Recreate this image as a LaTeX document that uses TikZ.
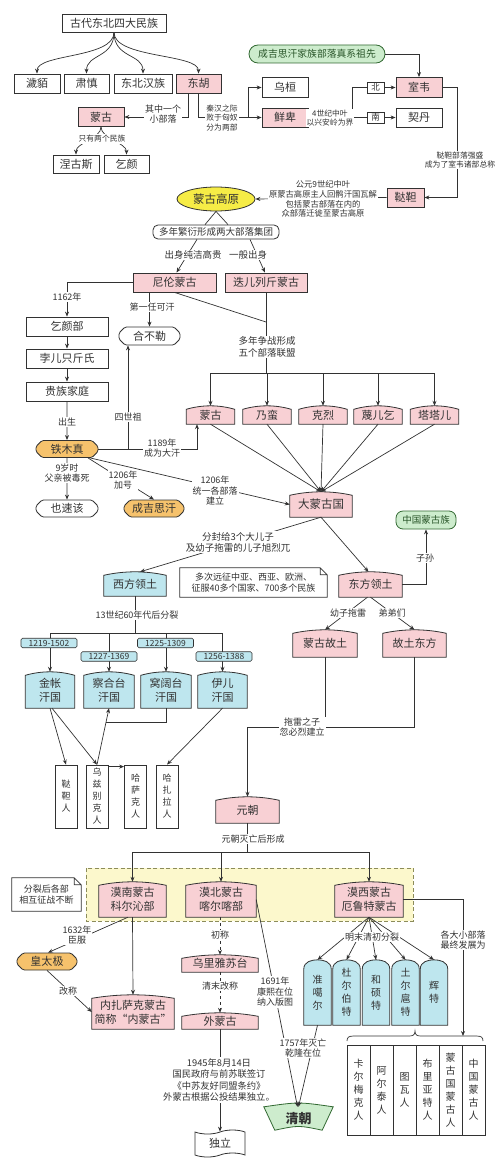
\documentclass[tikz,border=0pt]{standalone}
\usepackage{fontspec}
\setmainfont{Noto Sans CJK SC}
\usetikzlibrary{arrows.meta, shapes.geometric, shapes.misc, shapes.symbols, backgrounds}

\definecolor{ink}{RGB}{50,50,50}
\definecolor{pinkc}{RGB}{248,208,212}
\definecolor{cyanc}{RGB}{190,230,238}
\definecolor{orangec}{RGB}{246,194,108}
\definecolor{yellowc}{RGB}{246,236,70}
\definecolor{greenc}{RGB}{205,236,205}
\definecolor{greend}{RGB}{50,105,50}
\definecolor{zonec}{RGB}{252,248,204}
\definecolor{zoned}{RGB}{140,140,90}

\begin{document}
\begin{tikzpicture}[x=1pt, y=-1pt, >={Stealth[length=5pt,width=4pt]},
  line/.style={draw=ink, line width=0.7pt},
  arr/.style={line, ->},
  big/.style={font=\fontsize{11}{14}\selectfont, text=ink},
  box/.style={big, rectangle, draw=ink, line width=0.8pt, fill=white, inner sep=0pt, minimum height=19pt, minimum width=#1},
  pbox/.style={box=#1, fill=pinkc},
  capn/.style={big, align=center, inner sep=0pt, minimum width=#1},
  hexa/.style={big, chamfered rectangle, chamfered rectangle xsep=3pt, chamfered rectangle ysep=3pt, rounded corners=1.5pt, draw=ink, line width=0.8pt, fill=#1, inner sep=0pt, minimum width=60pt, minimum height=17pt},
  vbox/.style={draw=ink, line width=0.8pt, fill=white, align=center, inner sep=0pt, minimum width=22pt, minimum height=63pt, text=ink, font=\fontsize{9}{12}\selectfont},
  tomb/.style={align=center, inner sep=0pt, minimum width=27pt, minimum height=65pt, text=ink, font=\fontsize{10}{13}\selectfont},
  tag/.style={draw=ink, line width=0.6pt, fill=cyanc, rounded corners=1.5pt, inner sep=0pt, minimum width=56pt, minimum height=9.5pt, text=ink, font=\fontsize{8.5}{9}\selectfont},
  note/.style={align=center, inner sep=0pt, text=ink, font=\fontsize{9}{11.5}\selectfont},
  lbl/.style={align=center, fill=white, inner sep=1pt, text=ink, font=\fontsize{9}{10.5}\selectfont},
  slbl/.style={lbl, font=\fontsize{7.8}{9.5}\selectfont},
]
\useasboundingbox (0,0) rectangle (500,1172);

% four peoples of the north-east
\node[box=104, minimum height=18pt] (ancient) at (114,23) {古代东北四大民族};
\node[box=46] (hm) at (37,83.5) {濊貊};
\node[box=45] (sx) at (86.5,83.5) {肃慎};
\node[box=58] (hz) at (143,83.5) {东北汉族};
\node[pbox=45] (dh) at (198.5,83.5) {东胡};
\node[pbox=46] (mg1) at (101,117) {蒙古};
\node[box=46, minimum height=18pt] (ngs) at (76,164) {涅古斯};
\node[box=45, minimum height=18pt] (qy) at (126.5,164) {乞颜};

% Xianbei and Shiwei
\node[draw=greend, line width=0.8pt, fill=greenc, rounded corners=9pt, minimum width=136pt, minimum height=18pt, inner sep=0pt, text=greend!80!black, font=\fontsize{9.8}{11}\selectfont] (anc) at (317,54) {成吉思汗家族部落真系祖先};
\node[box=46, minimum height=20pt] (wh) at (285,87.5) {乌桓};
\node[pbox=46] (xb) at (285,117.5) {鲜卑};
\node[box=17, minimum height=11pt, font=\fontsize{8.5}{9}\selectfont] (bei) at (375.5,87.5) {北};
\node[box=17, minimum height=11pt, font=\fontsize{8.5}{9}\selectfont] (nan) at (375.5,117.5) {南};
\node[pbox=46, minimum height=20pt] (sw) at (419,87.5) {室韦};
\node[box=46] (qd) at (419,117.5) {契丹};
\node[pbox=37] (dd) at (405.5,197.5) {鞑靼};

% Mongolian plateau
\node[ellipse, draw=ink, line width=0.8pt, fill=yellowc, minimum width=78pt, minimum height=24pt, inner sep=0pt, text=ink, font=\fontsize{11.5}{13}\selectfont] (gov) at (216,199) {蒙古高原};
\node[draw=ink, line width=0.8pt, fill=white, rounded corners=5pt, minimum width=126pt, minimum height=14pt, inner sep=0pt, text=ink, font=\fontsize{9.5}{11}\selectfont] (grp) at (216,232) {多年繁衍形成两大部落集团};
\node[pbox=83] (nl) at (174.5,282.5) {尼伦蒙古};
\node[pbox=82] (de) at (266,282.5) {迭儿列斤蒙古};
\node[box=82] (qyb) at (67,326.5) {乞颜部};
\node[box=82] (bej) at (67,358.5) {孛儿只斤氏};
\node[box=82] (gz) at (67,391.5) {贵族家庭};
\node[hexa=white, minimum width=61pt, minimum height=18pt] (hbl) at (149.5,336) {合不勒};
\node[hexa=orangec, minimum width=62pt] (tmz) at (67,449) {铁木真};
\node[hexa=white, minimum width=62pt] (ysg) at (67,508.5) {也速该};
\node[hexa=orangec] (cjs) at (154,508.5) {成吉思汗};

% five tribal unions
\node[capn=48, minimum height=18pt] (mgt) at (210.5,415) {蒙古};
\node[capn=48, minimum height=18pt] (nm) at (267,415) {乃蛮};
\node[capn=48, minimum height=18pt] (kl) at (323,415) {克烈};
\node[capn=48, minimum height=18pt] (mek) at (378,415) {蔑儿乞};
\node[capn=48, minimum height=18pt] (tt) at (434.5,415) {塔塔儿};
\node[capn=62, minimum height=25pt, font=\fontsize{11.5}{14}\selectfont] (dmg) at (321,504.5) {大蒙古国};
\node[draw=greend, line width=0.8pt, fill=greenc, rounded corners=7pt, minimum width=60pt, minimum height=18pt, inner sep=0pt, text=greend!80!black, font=\fontsize{9.5}{11}\selectfont] (zgm) at (426,520) {中国蒙古族};

% west and east
\node[capn=62, minimum height=24pt] (xf) at (135,584) {西方领土};
\node[note, minimum width=147pt, minimum height=29pt] (note1) at (253.5,582.5) {多次远征中亚、西亚、欧洲、\\征服40多个国家、700多个民族};
\node[capn=63, minimum height=25pt] (df) at (370.5,584.5) {东方领土};
\node[capn=64, minimum height=27pt] (mggt) at (325,643.5) {蒙古故土};
\node[capn=63, minimum height=27pt] (gtdf) at (414.5,643.5) {故土东方};
\node[capn=49, minimum height=36pt] (jz) at (50,690) {金帐\\汗国};
\node[capn=50, minimum height=36pt] (chg) at (109,690) {察合台\\汗国};
\node[capn=50, minimum height=36pt] (wkt) at (166,690) {窝阔台\\汗国};
\node[capn=49, minimum height=36pt] (yr) at (222.5,690) {伊儿\\汗国};
\node[vbox] (p1) at (66,796.5) {鞑\\靼\\人};
\node[vbox] (p2) at (97,796.5) {乌\\兹\\别\\克\\人};
\node[vbox] (p3) at (135.5,796.5) {哈\\萨\\克\\人};
\node[vbox] (p4) at (167,796.5) {哈\\扎\\拉\\人};

% Yuan and after
\node[capn=63, minimum height=26pt] (ym) at (247.5,810) {元朝};
\node[note, minimum width=69pt, minimum height=33pt] (note2) at (46.5,894.5) {分裂后各部\\相互征战不断};
\node[capn=67, minimum height=35pt] (mn) at (132.5,899.5) {漠南蒙古\\科尔沁部};
\node[capn=70, minimum height=35pt] (mb) at (221,899.5) {漠北蒙古\\喀尔喀部};
\node[capn=68, minimum height=35pt] (mx) at (369,899.5) {漠西蒙古\\厄鲁特蒙古};
\node[hexa=orangec] (htj) at (47,961.5) {皇太极};
\node[capn=82, minimum height=34pt] (nzsk) at (133,1012) {内扎萨克蒙古\\简称“内蒙古”};
\node[capn=76, minimum height=17pt] (wly) at (220,963.5) {乌里雅苏台};
\node[capn=76, minimum height=16pt] (wmg) at (220,1021) {外蒙古};
\node[tape, tape bend top=in and out, tape bend bottom=in and out, tape bend height=4pt, draw=ink, line width=0.8pt, fill=white, minimum width=50pt, minimum height=27pt, inner sep=0pt, big] (dl) at (220,1143.5) {独立};
\node[inner sep=0pt, minimum width=63pt, minimum height=23pt, text=ink, font=\fontsize{13}{15}\selectfont\bfseries] (qc) at (298.5,1118.5) {清朝};
\node[tomb] (zge) at (317.5,992.5) {准\\噶\\尔};
\node[tomb] (debt) at (346.5,992.5) {杜\\尔\\伯\\特};
\node[tomb] (hst) at (376,992.5) {和\\硕\\特};
\node[tomb] (tehu) at (405.5,992.5) {土\\尔\\扈\\特};
\node[tomb] (ht) at (434,992.5) {辉\\特};
\foreach \x/\t [count=\i] in {358.5/卡\\尔\\梅\\克\\人, 381.5/阿\\尔\\泰\\人, 404.5/图\\瓦\\人, 427.5/布\\里\\亚\\特\\人, 450.5/蒙\\古\\国\\蒙\\古\\人, 473.5/中\\国\\蒙\\古\\人}
  \node[vbox, minimum width=23pt, minimum height=90pt, font=\fontsize{10}{13}\selectfont] (b\i) at (\x,1090) {\t};

% connectors: top part
\foreach \t in {hm,sx,hz,dh}
  \draw[arr] (ancient.south) .. controls +(0,26) and +(0,-20) .. (\t.north);
\draw[arr] ([xshift=-10pt]dh.south) |- (mg1.east);
\draw[arr] (dh.south) |- (xb.west);
\coordinate (wxj) at (248,117.5);
\draw[arr] (wxj) |- (wh.west);
\draw[arr] (mg1.south) .. controls +(0,12) and +(0,-12) .. (ngs.north);
\draw[arr] (mg1.south) .. controls +(0,12) and +(0,-12) .. (qy.north);
\draw[arr] (anc.east) -| (sw.north);
\coordinate (bnj) at (352,117.5);
\draw[line] (xb.east) -- (bnj) -- (nan.west);
\draw[line] (bnj) |- (bei.west);
\draw[arr] (bei.east) -- (sw.west);
\draw[arr] (nan.east) -- (qd.west);
\coordinate (swr) at (457,87.5);
\draw[arr] (sw.east) -- (swr) |- (dd.east);
\draw[arr] (dd.west) -- (gov.east);
\draw[line] (gov.south) -- ([xshift=-11pt]grp.north);
\draw[line] (gov.south) -- ([xshift=12pt]grp.north);
\draw[arr] ([xshift=-19pt]grp.south) -- ([xshift=2pt]nl.north);
\draw[arr] ([xshift=34pt]grp.south) -- ([xshift=-1pt]de.north);

% connectors: Temujin
\draw[arr] (nl.west) -| (qyb.north);
\draw[arr] (qyb) -- (bej);
\draw[arr] (bej) -- (gz);
\draw[arr] (gz) -- (tmz);
\draw[arr] (tmz) -- (ysg);
\draw[arr] (hbl.north |- nl.south) -- (hbl.north);
\coordinate (j5) at (266,322);
\coordinate (bar5) at (0,373);
\draw[line] (nl.south) -- (j5);
\draw[line] (de.south) -- (de.south |- bar5);
\draw[line] (mgt.north |- bar5) -- (tt.north |- bar5);
\foreach \t in {mgt,nm,kl,mek,tt}
  \draw[arr] (\t.north |- bar5) -- (\t.north);
\draw[arr] (tmz.east) -| ([xshift=-13.5pt]mgt.south);
\coordinate (c128) at (128,0);
\draw[arr] (tmz.east -| c128) -- (hbl.south -| c128);
\draw[arr] ([xshift=21pt]tmz.south) -- (cjs.north);
\draw[arr] ([xshift=23pt]tmz.south) -- (dmg.west);
\foreach \t in {mgt,nm,kl,mek,tt}
  \draw[arr] (\t.south) -- (dmg.north);

% connectors: west and east
\draw[arr] (dmg.south) -- ([xshift=5pt]xf.north);
\draw[arr] (dmg.south) -- ([xshift=-2pt]df.north);
\draw[arr] (df.east) -| (zgm.south);
\draw[arr] ([xshift=-3pt]df.south) -- (mggt.north);
\draw[arr] (df.south) -- (gtdf.north);
\coordinate (ymj) at (247.5,727);
\draw[line] (mggt.south) -- (mggt.south |- ymj);
\draw[arr] (gtdf.south) |- (ymj) -- (ym.north);
\coordinate (bar4) at (0,633);
\draw[line] (xf.south) -- (xf.south |- bar4);
\draw[line] (jz.north |- bar4) -- (yr.north |- bar4);
\foreach \t in {jz,chg,wkt,yr}
  \draw[arr] (\t.north |- bar4) -- (\t.north);
\draw[arr] (jz.south) -- (p1.north);
\draw[arr] ([xshift=2pt]jz.south) -- (p2.north);
\draw[arr] (p2.north) -- (chg.south);
\coordinate (wkj) at (106,722);
\draw[line] (wkt.south) |- (wkj);
\draw[arr] ([yshift=-2pt]p2.north east) -- ([yshift=-2pt]p3.north west);
\draw[arr] (yr.south) -- (p4.north);

% connectors: Yuan and after
\coordinate (bar3) at (0,852);
\draw[line] (ym.south) -- (ym.south |- bar3);
\draw[line] (mn.north |- bar3) -- (mx.north |- bar3);
\foreach \t in {mn,mb,mx}
  \draw[arr] (\t.north |- bar3) -- (\t.north);
\draw[arr] ([xshift=-4.5pt]mn.south) -- ([xshift=1pt]htj.north);
\draw[arr] (htj.south) -- (nzsk.west);
\draw[arr] (mn.south) -- (nzsk.north);
\draw[arr, dashed] (wly.north |- mb.south) -- (wly.north);
\draw[arr, dashed] (wly.south) -- (wmg.north);
\draw[arr] (wmg.south) -- (dl.north);
\draw[arr] (mb.east) -- ([xshift=-1pt]qc.north);
\draw[arr] (zge.south) -- (qc.north);
\foreach \t in {zge,debt,hst,tehu,ht}
  \draw[arr] (mx.south) -- (\t.north);
\coordinate (brr) at (463,1036);
\draw[arr] (mx.east) -| (brr);
% brace over the peoples
\draw[line] (347,1041) .. controls (347,1037) and (349,1036) .. (354,1036) -- (409,1036)
  .. controls (413,1036) and (415,1035) .. (415,1031) .. controls (415,1035) and (417,1036) .. (421,1036)
  -- (476,1036) .. controls (481,1036) and (483,1037) .. (483,1041);

% labels
\node[lbl] (l1) at (163,114) {其中一个\\小部落};
\node[slbl] (l2) at (222,118) {秦汉之际\\败于匈奴\\分为两部};
\node[slbl] (l3) at (102,139) {只有两个民族};
\node[slbl] (l4) at (330,118) {4世纪中叶\\以兴安岭为界};
\node[slbl] (l5) at (460,160) {鞑靼部落强盛\\成为了室韦诸部总称};
\node[slbl, font=\fontsize{8.3}{9.8}\selectfont] (l6) at (323,199) {公元9世纪中叶\\原蒙古高原主人回鹘汗国瓦解\\包括蒙古部落在内的\\众部落迁徙至蒙古高原};
\node[lbl, font=\fontsize{9.5}{11}\selectfont] (l7) at (193,255) {出身纯洁高贵};
\node[lbl, font=\fontsize{9.5}{11}\selectfont] (l8) at (248,255) {一般出身};
\node[lbl] (l9) at (67,297) {1162年};
\node[lbl] (l10) at (152,307) {第一任可汗};
\node[lbl, font=\fontsize{9.5}{11.5}\selectfont] (l11) at (267,347) {多年争战形成\\五个部落联盟};
\node[lbl] (l12) at (128,417) {四世祖};
\node[lbl] (l13) at (67,422) {出生};
\node[lbl] (l14) at (162,448) {1189年\\成为大汗};
\node[lbl] (l15) at (67,473) {9岁时\\父亲被毒死};
\node[lbl] (l16) at (123,480) {1206年\\加号};
\node[lbl] (l17) at (215,491) {1206年\\统一各部落\\建立};
\node[lbl, font=\fontsize{9.5}{11}\selectfont] (l18) at (238,542) {分封给3个大儿子\\及幼子拖雷的儿子旭烈兀};
\node[lbl] (l19) at (425,558) {子孙};
\node[lbl] (l20) at (348,613) {幼子拖雷};
\node[lbl] (l21) at (392,613) {弟弟们};
\node[lbl] (l22) at (137,615) {13世纪60年代后分裂};
\node[tag] (t1) at (49,643) {1219-1502};
\node[tag] (t2) at (109,656.5) {1227-1369};
\node[tag] (t3) at (165.5,643) {1225-1309};
\node[tag] (t4) at (224,656.5) {1256-1388};
\node[lbl] (l23) at (302,727) {拖雷之子\\忽必烈建立};
\node[lbl] (l24) at (253,839) {元朝灭亡后形成};
\node[lbl] (l25) at (77,935) {1632年\\臣服};
\node[lbl] (l26) at (68,991) {改称};
\node[lbl] (l27) at (220,935) {初称};
\node[lbl] (l28) at (220,986) {清末改称};
\node[lbl, font=\fontsize{9.3}{11.5}\selectfont] (l29) at (219,1080) {1945年8月14日\\国民政府与前苏联签订\\《中苏友好同盟条约》\\外蒙古根据公投结果独立。};
\node[lbl] (l30) at (275,992) {1691年\\康熙在位\\纳入版图};
\node[lbl] (l31) at (303,1048) {1757年灭亡\\乾隆在位};
\node[lbl] (l32) at (372,937) {明末清初分裂};
\node[lbl] (l33) at (463,940) {各大小部落\\最终发展为};

% outlines behind the text
\begin{scope}[on background layer]
  \draw[draw=zoned, fill=zonec, line width=0.9pt, dash pattern=on 4pt off 2.5pt] (86,868) rectangle (413,921);
  \foreach \nd/\col in {mgt/pinkc, nm/pinkc, kl/pinkc, mek/pinkc, tt/pinkc, dmg/pinkc, df/pinkc, mggt/pinkc, gtdf/pinkc, ym/pinkc, mn/pinkc, mb/pinkc, mx/pinkc, nzsk/pinkc, wly/pinkc, wmg/pinkc, xf/cyanc, jz/cyanc, chg/cyanc, wkt/cyanc, yr/cyanc}
    \draw[line, line width=0.8pt, fill=\col] (\nd.south west) -- ([yshift=-3.5pt]\nd.north west) parabola bend (\nd.north) ([yshift=-3.5pt]\nd.north east) -- (\nd.south east) -- cycle;
  \foreach \nd in {zge,debt,hst,tehu,ht}
    \draw[line, line width=0.8pt, fill=cyanc] (\nd.south west) -- ([yshift=-9pt]\nd.north west) .. controls ([yshift=-2pt]\nd.north west) and ([xshift=-6pt]\nd.north) .. (\nd.north) .. controls ([xshift=6pt]\nd.north) and ([yshift=-2pt]\nd.north east) .. ([yshift=-9pt]\nd.north east) -- (\nd.south east) -- cycle;
  \foreach \nd in {note1,note2}
    \draw[line, line width=0.8pt, fill=white] (\nd.south west) -- (\nd.north west) -- ([xshift=-7pt]\nd.north east) -- ([yshift=-7pt]\nd.north east) -- (\nd.south east) -- cycle
      ([xshift=-7pt]\nd.north east) |- ([yshift=-7pt]\nd.north east);
  \draw[draw=greend, line width=0.8pt, fill=greenc] ([xshift=-3pt]qc.north west) .. controls ([yshift=5pt]qc.north) .. ([xshift=3pt]qc.north east)
    -- ([xshift=-8pt]qc.south east) .. controls ([yshift=5pt]qc.south) .. ([xshift=8pt]qc.south west) -- cycle;
\end{scope}
\end{tikzpicture}
\end{document}
